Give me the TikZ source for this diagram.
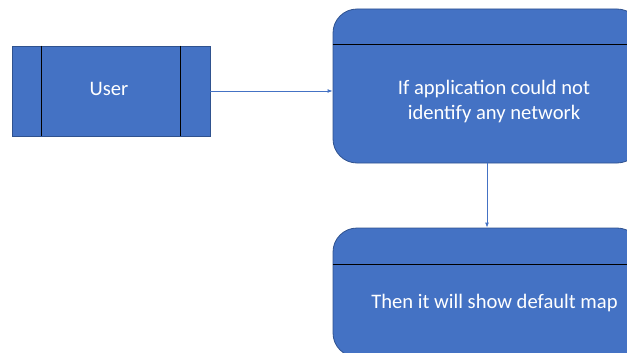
\documentclass[tikz,border=0pt]{standalone}
\usepackage{fontspec}
\setmainfont{Carlito}
\usetikzlibrary{arrows.meta,positioning}
\definecolor{boxblue}{HTML}{4472C4}
\definecolor{boxedge}{HTML}{2F528F}

\begin{document}
\begin{tikzpicture}[x=1pt,y=-1pt,
  box/.style={draw=boxedge,fill=boxblue,line width=0.8pt,inner sep=0pt},
  lbl/.style={text=white,font=\fontsize{20.6}{24.5}\selectfont,align=center},
  flow/.style={draw=boxblue,line width=0.9pt,-{Latex[length=5pt,width=4pt]}}]
\useasboundingbox (0,0) rectangle (627,353);
\clip (0,0) rectangle (627,353);
% user box
\node[box,minimum width=198pt,minimum height=90pt] (user) at (111,91) {};
\draw[line width=1pt] ([xshift=30pt]user.north west) -- ([xshift=30pt]user.south west);
\draw[line width=1pt] ([xshift=-30pt]user.north east) -- ([xshift=-30pt]user.south east);
\node[lbl] (userlbl) at (109,89) {User};
% network box
\node[box,rounded corners=24pt,minimum width=308pt,minimum height=154pt] (net) at (487,86) {};
\draw[line width=1pt] ([yshift=-36pt]net.north west) -- ([yshift=-36pt]net.north east);
\node[lbl] (netlbl) at (494,101.5) {If application could not\\identify any network};
% map box
\node[box,rounded corners=24pt,minimum width=308pt,minimum height=129pt] (map) at (487,292.5) {};
\draw[line width=1pt] ([yshift=-37pt]map.north west) -- ([yshift=-37pt]map.north east);
\node[lbl] (maplbl) at (494.5,303) {Then it will show default map};
% arrows
\draw[flow] (user.east) -- (user.east -| net.west);
\draw[flow] (net.south) -- (map.north);
\end{tikzpicture}
\end{document}
